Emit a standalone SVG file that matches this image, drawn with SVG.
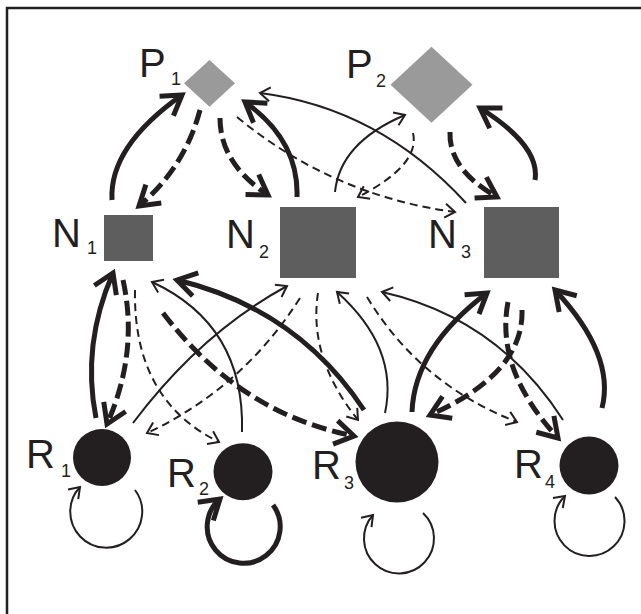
<svg xmlns="http://www.w3.org/2000/svg" width="641" height="614" viewBox="0 0 641 614">
<style>
.c{fill:none;stroke:#231f20}
.tk{stroke-width:5;marker-end:url(#ahT)}
.tn{stroke-width:2;marker-end:url(#ahS)}
.dk{stroke-dasharray:15 6}
.dn{stroke-dasharray:8 5}
.lbl{font-family:"Liberation Sans",Arial,sans-serif;fill:#231f20;font-size:40px}
.sub{font-size:18px}
.p{fill:#9a9a9a}
.n{fill:#5e5e5e}
.r{fill:#231f20}
</style>
<defs>
<marker id="ahT" markerUnits="userSpaceOnUse" viewBox="-26 -18 32 36" refX="0" refY="0" markerWidth="32" markerHeight="36" orient="auto" overflow="visible">
<path d="M-19,-12 L0,0 L-19,12" fill="none" stroke="#231f20" stroke-width="5"/>
</marker>
<marker id="ahS" markerUnits="userSpaceOnUse" viewBox="-14 -10 18 20" refX="0" refY="0" markerWidth="18" markerHeight="20" orient="auto" overflow="visible">
<path d="M-10,-7 L0,0 L-10,7" fill="none" stroke="#231f20" stroke-width="2"/>
</marker>
</defs>
<rect width="641" height="614" fill="#fff"/>
<path d="M7,614 V8 H641" fill="none" stroke="#231f20" stroke-width="2.5"/>
<g id="connectors">
<path class="c tk" d="M112,200 Q109,146.5 182,95"/>
<path class="c tk dk" d="M200,110 Q184.5,168 139,206"/>
<path class="c tk dk" d="M220,118 Q220,163.5 268,195"/>
<path class="c tk" d="M297,197 Q299,140.5 245,102"/>
<path class="c tn" d="M466,203 Q379,108 260,93"/>
<path class="c tn dn" d="M237,117 Q332,195.5 455,212"/>
<path class="c tn" d="M335,192 Q340,142.5 405,115"/>
<path class="c tn dn" d="M413,133 Q420.5,165 358,197"/>
<path class="c tk dk" d="M450,132 Q448.5,169.5 497,197"/>
<path class="c tk" d="M535,180 Q540.5,146 480,108"/>
<path class="c tk" d="M96,418 Q81.5,344.5 113,273"/>
<path class="c tk dk" d="M123,280 Q139,352 107,424"/>
<path class="c tn dn" d="M135,290 Q133,400 219,442"/>
<path class="c tn" d="M242,432 Q245,325 152,282"/>
<path class="c tk" d="M364,410 Q297.5,309 177,280"/>
<path class="c tk dk" d="M163,313 Q239.5,413.5 354,436"/>
<path class="c tn" d="M133,423 Q200,333.5 287,286"/>
<path class="c tn dn" d="M300,298 Q242.5,388.5 147,433"/>
<path class="c tn dn" d="M318,293 Q308,357.5 358,420"/>
<path class="c tn" d="M385,413 Q399,347.5 337,292"/>
<path class="c tk" d="M412,412 Q414.5,347.5 487,293"/>
<path class="c tk dk" d="M522,310 Q524,373.5 430,415"/>
<path class="c tk dk" d="M508,302 Q495,370 558,438"/>
<path class="c tk" d="M602,408 Q615.5,355 555,290"/>
<path class="c tn" d="M563,420 Q497.5,318 382,292"/>
<path class="c tn dn" d="M367,297 Q420,384.5 517,422"/>
<path class="c tn" d="M135,490 A36,36 0 1 1 80,487"/>
<path class="c tk" d="M273,505 A36.5,36.5 0 1 1 220,499"/>
<path class="c tn" d="M423,513 A35,35 0 1 1 373,515"/>
<path class="c tn" d="M615,497 A35,35 0 1 1 565,496"/>
</g>
<g id="P1">
<polygon class="p" points="184,83.3 209.5,60 235,83.3 209.5,106.7"/>
<text class="lbl" x="139" y="77">P<tspan class="sub" x="171" y="85">1</tspan></text>
</g>
<g id="P2">
<polygon class="p" points="390.5,84.7 431.5,46.7 472.5,84.7 431.5,122.7"/>
<text class="lbl" x="346" y="78">P<tspan class="sub" x="376" y="87">2</tspan></text>
</g>
<g id="N1">
<rect class="n" x="104" y="215" width="49" height="46"/>
<text class="lbl" x="52" y="247">N<tspan class="sub" x="87" y="254">1</tspan></text>
</g>
<g id="N2">
<rect class="n" x="280" y="207" width="76" height="71"/>
<text class="lbl" x="226" y="248">N<tspan class="sub" x="259" y="258">2</tspan></text>
</g>
<g id="N3">
<rect class="n" x="484" y="207" width="75" height="71"/>
<text class="lbl" x="428" y="248">N<tspan class="sub" x="461" y="258">3</tspan></text>
</g>
<g id="R1">
<ellipse class="r" cx="102" cy="457.5" rx="29" ry="28.5"/>
<text class="lbl" x="26" y="468">R<tspan class="sub" x="61" y="477">1</tspan></text>
</g>
<g id="R2">
<ellipse class="r" cx="243" cy="471.7" rx="29.5" ry="28.5"/>
<text class="lbl" x="167" y="487">R<tspan class="sub" x="199" y="495">2</tspan></text>
</g>
<g id="R3">
<ellipse class="r" cx="397" cy="462" rx="41.5" ry="40.5"/>
<text class="lbl" x="312" y="479">R<tspan class="sub" x="344" y="489">3</tspan></text>
</g>
<g id="R4">
<ellipse class="r" cx="589" cy="465.5" rx="29.5" ry="29"/>
<text class="lbl" x="514" y="478">R<tspan class="sub" x="545" y="488">4</tspan></text>
</g>
</svg>
